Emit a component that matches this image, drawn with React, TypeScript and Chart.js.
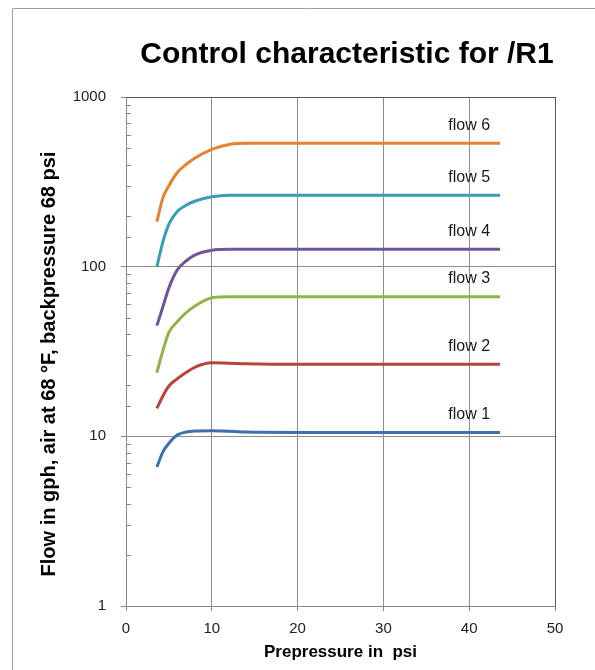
import React, { useEffect, useRef } from "react";
import { Chart, registerables } from "chart.js";

Chart.register(...registerables);

// ---- data ----
const pressures = [3.6, 4.3, 5, 6, 7, 8, 10, 12, 14, 20, 30, 43.6];
const flow1 = [6.6, 8.1, 9.1, 10.2, 10.6, 10.75, 10.8, 10.7, 10.6, 10.55, 10.55, 10.55];
const flow2 = [14.6, 17.3, 19.8, 21.9, 23.8, 25.5, 27.1, 27.0, 26.8, 26.6, 26.6, 26.6];
const flow3 = [23.7, 32, 41, 47.5, 53.5, 58.5, 65.5, 66.5, 66.5, 66.5, 66.5, 66.5];
const flow4 = [44.9, 58, 75, 96, 108, 117, 125, 126.5, 126.5, 126.5, 126.5, 126.5];
const flow5 = [100, 140, 178, 212, 230, 243, 258, 264, 264, 264, 264, 264];
const flow6 = [184, 255, 300, 360, 400, 435, 491, 525, 533, 533, 533, 533];
const seriesValues = [flow1, flow2, flow3, flow4, flow5, flow6];
const seriesNames = ["flow 1", "flow 2", "flow 3", "flow 4", "flow 5", "flow 6"];
const seriesColors = ["#3E70B0", "#B5443F", "#8DB444", "#6E5698", "#3C9BB5", "#E5812F"];
const xTickValues = [0, 10, 20, 30, 40, 50];
const yTickValues = [1, 10, 100, 1000];
const labelPressure = 40;
const chartTitle = "Control characteristic for /R1";
const xTitle = "Prepressure in  psi";
const yTitle = "Flow in gph, air at 68 \u00B0F, backpressure 68 psi";

const FONT = "'Liberation Sans', Arial, sans-serif";

const decorPlugin = {
  id: "decor",
  beforeDraw(chart: any) {
    const ctx = chart.ctx;
    ctx.save();
    ctx.fillStyle = "#ffffff";
    ctx.fillRect(0, 0, chart.width, chart.height);
    ctx.strokeStyle = "#a0a0a0";
    ctx.lineWidth = 1;
    ctx.beginPath();
    ctx.moveTo(12.5, chart.height + 5);
    ctx.lineTo(12.5, 8.5);
    ctx.lineTo(chart.width + 5, 8.5);
    ctx.stroke();
    // chart title
    ctx.fillStyle = "#000000";
    ctx.font = "bold 30px " + FONT;
    ctx.textAlign = "center";
    ctx.textBaseline = "middle";
    ctx.fillText(chartTitle, 347, 55);
    // y axis title
    ctx.font = "bold 20px " + FONT;
    ctx.translate(49, 364);
    ctx.rotate(-Math.PI / 2);
    ctx.fillText(yTitle, 0, 0);
    ctx.restore();
  },
  beforeDatasetsDraw(chart: any) {
    const ctx = chart.ctx;
    const { left, right, top, bottom } = chart.chartArea;
    const ys = chart.scales.y;
    ctx.save();
    // minor ticks inside the y axis
    ctx.strokeStyle = "#888888";
    ctx.lineWidth = 1;
    ys.ticks.forEach((t: any) => {
      if (yTickValues.includes(t.value)) return;
      const py = Math.round(ys.getPixelForValue(t.value)) + 0.5;
      ctx.beginPath();
      ctx.moveTo(left, py);
      ctx.lineTo(left + 5, py);
      ctx.stroke();
    });
    // plot area top & right border
    ctx.strokeStyle = "#555555";
    ctx.beginPath();
    ctx.moveTo(Math.round(left) + 0.5, Math.round(top) + 0.5);
    ctx.lineTo(Math.round(right) + 0.5, Math.round(top) + 0.5);
    ctx.lineTo(Math.round(right) + 0.5, Math.round(bottom) + 0.5);
    ctx.stroke();
    ctx.restore();
  },
  afterDatasetsDraw(chart: any) {
    const ctx = chart.ctx;
    const xs = chart.scales.x;
    const ys = chart.scales.y;
    ctx.save();
    ctx.fillStyle = "#1a1a1a";
    ctx.font = "16px " + FONT;
    ctx.textAlign = "center";
    ctx.textBaseline = "middle";
    seriesValues.forEach((vals, i) => {
      const last = vals[vals.length - 1];
      const px = xs.getPixelForValue(labelPressure);
      const py = ys.getPixelForValue(last) - 18;
      ctx.fillText(seriesNames[i], px, py);
    });
    ctx.restore();
  },
};

export default function App() {
  const ref = useRef<HTMLCanvasElement | null>(null);

  useEffect(() => {
    if (!ref.current) return;
    const datasets = seriesValues.map((vals, i) => ({
      label: seriesNames[i],
      data: pressures.map((p, j) => ({ x: p, y: vals[j] })),
      borderColor: seriesColors[i],
      backgroundColor: seriesColors[i],
      borderWidth: 3,
      pointRadius: 0,
      cubicInterpolationMode: "monotone" as const,
      fill: false,
    }));

    const chart = new Chart(ref.current, {
      type: "line",
      data: { datasets },
      plugins: [decorPlugin],
      options: {
        animation: false,
        responsive: false,
        devicePixelRatio: 1,
        layout: { padding: { left: 0, right: 40, top: 97, bottom: 7 } },
        plugins: {
          legend: { display: false },
          title: { display: false },
          tooltip: { enabled: false },
        },
        scales: {
          x: {
            type: "linear",
            min: 0,
            max: 50,
            afterBuildTicks: (scale: any) => {
              scale.ticks = xTickValues.map((v) => ({ value: v }));
            },
            afterFit: (scale: any) => {
              scale.height = 57;
            },
            ticks: {
              color: "#222222",
              font: { family: FONT, size: 15 },
              padding: 9,
            },
            grid: {
              color: (c: any) => (c.tick && c.tick.value === 50 ? "#555555" : "#8c8c8c"),
              lineWidth: 1,
              tickLength: 5,
              tickColor: "#888888",
            },
            border: { display: true, color: "#888888", width: 1 },
            title: {
              display: true,
              text: xTitle,
              color: "#000000",
              font: { family: FONT, size: 17, weight: "bold" },
              padding: { top: 0, bottom: 0 },
            },
          },
          y: {
            type: "logarithmic",
            min: 1,
            max: 1000,
            afterFit: (scale: any) => {
              scale.width = 126;
            },
            ticks: {
              autoSkip: false,
              color: "#222222",
              font: { family: FONT, size: 15 },
              padding: 15,
              callback: (v: any) => (yTickValues.includes(Number(v)) ? String(v) : ""),
            },
            grid: {
              color: (c: any) => {
                const v = c.tick ? c.tick.value : null;
                if (v === 1000) return "#555555";
                return yTickValues.includes(v) ? "#8c8c8c" : "rgba(0,0,0,0)";
              },
              lineWidth: 1,
              tickLength: 5,
              tickColor: (c: any) =>
                c.tick && yTickValues.includes(c.tick.value) ? "#888888" : "rgba(0,0,0,0)",
            },
            border: { display: true, color: "#888888", width: 1 },
            title: { display: false },
          },
        },
      } as any,
    });
    return () => chart.destroy();
  }, []);

  return (
    <canvas
      ref={ref}
      width={595}
      height={670}
      style={{ position: "fixed", left: 0, top: 0, width: 595, height: 670 }}
    />
  );
}
